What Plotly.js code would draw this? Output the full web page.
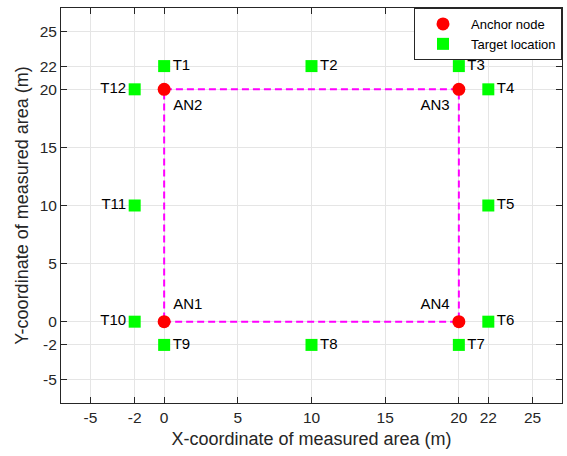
<!DOCTYPE html>
<html>
<head>
<meta charset="utf-8">
<script src="https://cdn.plot.ly/plotly-3.0.1.min.js"></script>
<style>html,body{margin:0;padding:0;background:#fff;}#chart{width:567px;height:456px;}</style>
</head>
<body>
<div id="chart"></div>
<script>
// Anchor nodes
const anchorX = [0, 0, 20, 20];
const anchorY = [0, 20, 20, 0];
const anchorLabels = ['AN1', 'AN2', 'AN3', 'AN4'];
const anchorLabelPos = ['top right', 'bottom right', 'bottom left', 'top left'];

// Target locations
const targetX = [0, 10, 20, 22, 22, 22, 20, 10, 0, -2, -2, -2];
const targetY = [22, 22, 22, 20, 10, 0, -2, -2, -2, 0, 10, 20];
const targetLabels = ['T1','T2','T3','T4','T5','T6','T7','T8','T9','T10','T11','T12'];
const targetLabelPos = ['middle right','middle right','middle right','middle right','middle right','middle right',
                        'middle right','middle right','middle right','middle left','middle left','middle left'];

// Measured area boundary
const boundaryX = [0, 20, 20, 0, 0];
const boundaryY = [0, 0, 20, 20, 0];

const tickVals = [-5, -2, 0, 5, 10, 15, 20, 22, 25];
const tickText = ['-5', '-2', '0', '5', '10', '15', '20', '22', '25'];

const font = 'Liberation Sans, Arial, Helvetica, sans-serif';

const traces = [
  {x: boundaryX, y: boundaryY, mode: 'lines', showlegend: false, hoverinfo: 'skip',
   line: {color: '#ff00ff', width: 2, dash: '7px,4px'}},
  {x: anchorX, y: anchorY, mode: 'markers', name: 'Anchor node',
   marker: {symbol: 'circle', size: 13, color: '#ff0000'}},
  {x: targetX, y: targetY, mode: 'markers', name: 'Target location',
   marker: {symbol: 'square', size: 12, color: '#00ff00'}},
  {x: anchorX, y: anchorY, mode: 'markers+text', text: anchorLabels, textposition: anchorLabelPos,
   marker: {size: 13, color: 'rgba(0,0,0,0)'},
   showlegend: false, textfont: {family: font, size: 15, color: '#000'}},
  {x: targetX, y: targetY, mode: 'markers+text', text: targetLabels, textposition: targetLabelPos,
   marker: {size: 12, color: 'rgba(0,0,0,0)'},
   showlegend: false, textfont: {family: font, size: 15, color: '#000'}}
];

const axisCommon = {
  range: [-7, 27], tickvals: tickVals, ticktext: tickText,
  showgrid: true, gridcolor: '#e5e5e5', gridwidth: 1,
  zeroline: false, showline: true, linecolor: '#262626', linewidth: 1,
  mirror: 'ticks', ticks: 'inside', ticklen: 6, tickcolor: '#262626',
  tickfont: {family: font, size: 15.5, color: '#262626'}
};

const layout = {
  width: 567, height: 456,
  margin: {l: 61, r: 5, t: 8, b: 53},
  paper_bgcolor: '#fff', plot_bgcolor: '#fff',
  font: {family: font, color: '#262626'},
  xaxis: Object.assign({}, axisCommon, {
    title: {text: 'X-coordinate of measured area (m)', font: {family: font, size: 18, color: '#262626'}, standoff: 7}
  }),
  yaxis: Object.assign({}, axisCommon, {
    title: {text: 'Y-coordinate of measured area (m)', font: {family: font, size: 18, color: '#262626'}, standoff: 6}
  }),
  legend: {x: 1, xanchor: 'right', y: 1, yanchor: 'top', bgcolor: '#fff',
           bordercolor: '#262626', borderwidth: 1, itemwidth: 46,
           font: {family: font, size: 13, color: '#000'}},
  showlegend: true
};

Plotly.newPlot('chart', traces, layout, {displayModeBar: false, staticPlot: true});
</script>
</body>
</html>
